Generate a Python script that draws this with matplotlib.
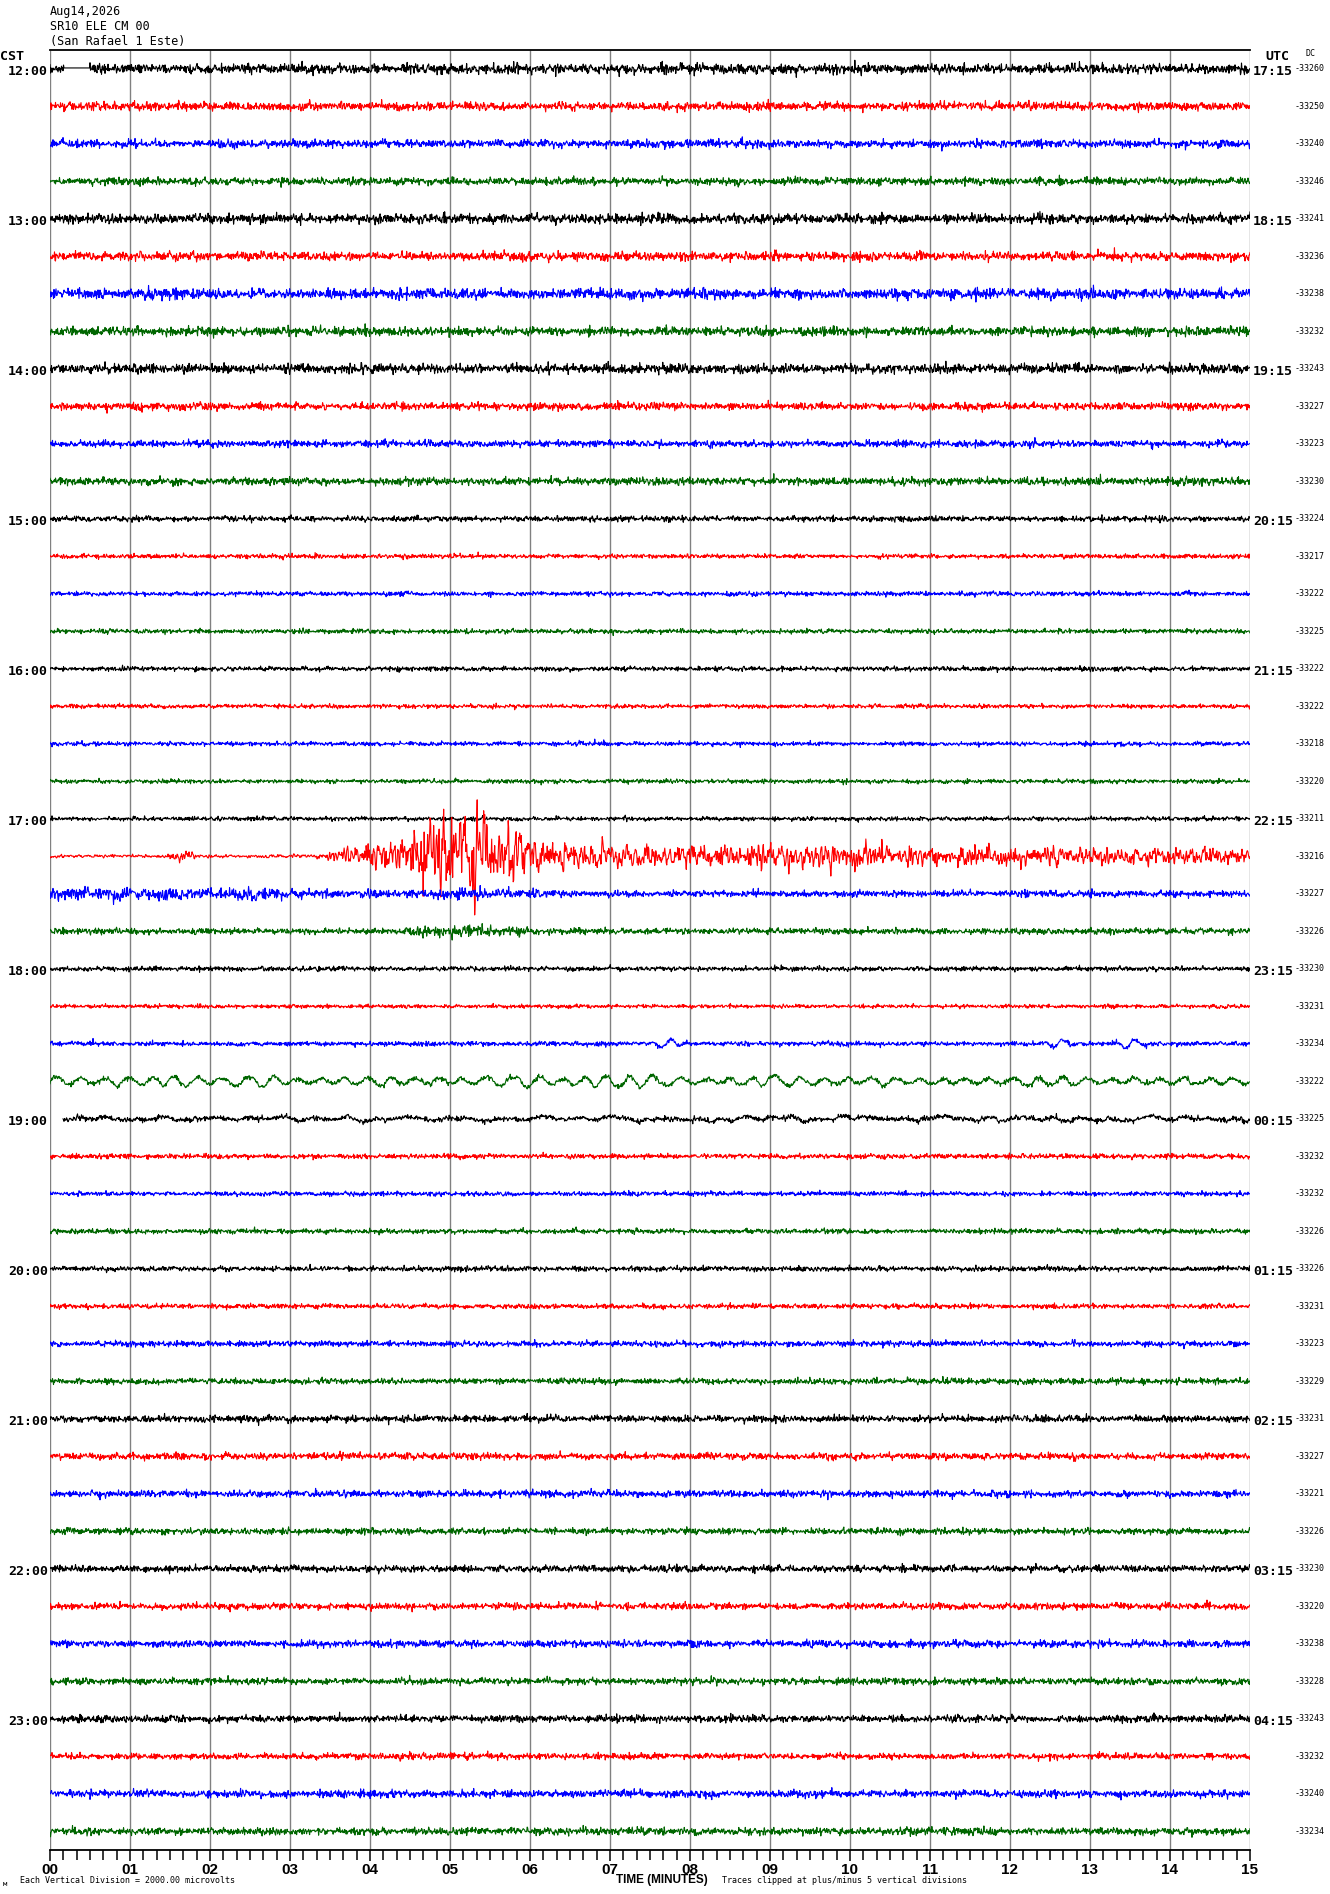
"""Helicorder page for SR10 ELE CM 00, 12:00-23:45 CST."""
import numpy as np
import matplotlib
matplotlib.use("Agg")
import matplotlib.pyplot as plt

W, H = 1330, 1894
MONO = "DejaVu Sans Mono"
BOLD = ["Liberation Sans", "DejaVu Sans"]

TITLE = ["Aug14,2026", "SR10 ELE CM 00", "(San Rafael 1 Este)"]
CST_HOURS = [f"{h}:00" for h in range(12, 24)]
UTC_HOURS = ["17:15", "18:15", "19:15", "20:15", "21:15", "22:15",
             "23:15", "00:15", "01:15", "02:15", "03:15", "04:15"]
DC_VALUES = [-33260, -33250, -33240, -33246, -33241, -33236, -33238, -33232,
             -33243, -33227, -33223, -33230, -33224, -33217, -33222, -33225,
             -33222, -33222, -33218, -33220, -33211, -33216, -33227, -33226,
             -33230, -33231, -33234, -33222, -33225, -33232, -33232, -33226,
             -33226, -33231, -33223, -33229, -33231, -33227, -33221, -33226,
             -33230, -33220, -33238, -33228, -33243, -33232, -33240, -33234]
COLORS = ["#000000", "#ff0000", "#0000ff", "#006600"]

# background noise level of each line (pixels, ~1 sigma)
NOISE_PX = [2.3, 2.1, 1.9, 1.8, 2.3, 2.1, 2.5, 2.2,
            2.2, 1.8, 1.6, 1.8, 1.3, 1.1, 1.1, 1.1,
            1.1, 1.0, 1.0, 1.0, 1.0, 0.8, 1.8, 1.4,
            1.1, 0.9, 1.1, 1.1, 1.2, 1.2, 1.1, 1.2,
            1.2, 1.2, 1.4, 1.4, 1.6, 1.6, 1.6, 1.5,
            1.6, 1.6, 1.7, 1.6, 1.7, 1.5, 1.8, 1.8]

# amplitude envelopes (minute, sigma px) for lines that are not steady
EVENT_MIN = [0, 1.45, 1.55, 1.75, 1.85, 3.3, 3.6, 4.0, 4.4, 4.7, 5.0, 5.3,
             5.6, 5.9, 6.3, 7.0, 8.0, 9.0, 9.6, 10.2, 11.0, 13.0, 15.0]
EVENT_PX = [0.8, 0.8, 2.2, 2.2, 0.8, 0.8, 3.5, 6.5, 10.0, 16.5, 18.5, 17.5,
            16.0, 11.0, 7.5, 5.8, 5.0, 5.2, 6.2, 5.2, 4.6, 4.6, 4.2]
BLUE_1730_MIN = [0, 2.7, 3.0, 4.5, 5.0, 6.0, 6.5, 15]
BLUE_1730_PX = [3.0, 3.0, 2.0, 2.0, 2.6, 2.6, 1.6, 1.6]
GREEN_1745_MIN = [0, 4.3, 4.6, 5.9, 6.2, 15]
GREEN_1745_PX = [1.4, 1.4, 2.6, 2.6, 1.4, 1.4]
GAP_ROW0 = (0.17, 0.5)      # flat stretch on the first line
START_ROW28 = 0.16          # 19:00 line starts late
PACKETS_ROW26 = [7.7, 12.6, 13.5]   # long-period wave packets (minutes)

ROW_PX = 37.5
N = 2400
t = np.linspace(0, 15, N)
rng = np.random.default_rng(1408)


def smooth(x, k):
    return np.convolve(x, np.ones(k) / k, mode="same")


fig = plt.figure(figsize=(W / 100, H / 100), dpi=100)
ax = fig.add_axes([50 / W, 44 / H, 1200 / W, 1800 / H])
ax.set_xlim(0, 15)
ax.set_ylim(47.5, -0.5)

ax.vlines(range(16), -0.5, 47.5, color="#808080", lw=1.0, zorder=0)

for i in range(48):
    sig = np.full(N, NOISE_PX[i])
    if i == 0:
        sig[(t > GAP_ROW0[0]) & (t < GAP_ROW0[1])] = 0
    if i == 21:
        sig = np.interp(t, EVENT_MIN, EVENT_PX)
    if i == 22:
        sig = np.interp(t, BLUE_1730_MIN, BLUE_1730_PX)
    if i == 23:
        sig = np.interp(t, GREEN_1745_MIN, GREEN_1745_PX)
    if i == 21:
        y = smooth(rng.standard_normal(N), 2) * 1.4 * sig
    else:
        y = rng.standard_normal(N) * sig
    if i == 22:
        y += smooth(rng.standard_normal(N), 6) * 3.0 * (t < 3)
    if i == 26:
        for c in PACKETS_ROW26:
            y += 5 * np.sin(2 * np.pi * (t - c) / 0.25) * np.exp(-((t - c) / 0.15) ** 2)
    if i == 27:
        mod = 2.0 + np.abs(smooth(rng.standard_normal(N), 120)) * 22
        y += np.clip(mod, 1.5, 7) * np.sin(2 * np.pi * t / 0.3 + smooth(rng.standard_normal(N), 150) * 8)
    if i == 28:
        y += smooth(rng.standard_normal(N), 25) * 6
        y[t < START_ROW28] = np.nan
    if i == 0:
        y[(t > GAP_ROW0[0]) & (t < GAP_ROW0[1])] = 0.8
    ax.plot(t, i - y / ROW_PX, color=COLORS[i % 4], lw=0.8, zorder=2)

for side in ("left", "right"):
    ax.spines[side].set_visible(False)
for side in ("top", "bottom"):
    ax.spines[side].set_linewidth(1.3)
ax.set_yticks([])
ax.set_xticks(range(16))
ax.set_xticklabels([f"{m:02d}" for m in range(16)], family=BOLD,
                   fontweight="bold", fontsize=11)
ax.set_xticks(np.arange(0, 15, 1 / 6), minor=True)
ax.tick_params(axis="x", which="major", length=8, width=1.1, pad=1)
ax.tick_params(axis="x", which="minor", length=7, width=1.1)

ytr = ax.get_yaxis_transform()
for k in range(12):
    ax.text(-0.0015, 4 * k + 0.06, CST_HOURS[k], transform=ytr, ha="right",
            va="center", family=MONO, fontsize=9.5, fontweight="bold")
    ax.text(1.0025, 4 * k + 0.06, UTC_HOURS[k], transform=ytr, ha="left",
            va="center", family=MONO, fontsize=9.5, fontweight="bold")
for i, v in enumerate(DC_VALUES):
    ax.text(1.037, i, str(v), transform=ytr, ha="left", va="center",
            family=MONO, fontsize=6)


def px(x, y):
    return x / W, 1 - y / H


for k, line in enumerate(TITLE):
    fig.text(*px(50, 12 + 15 * k), line, family=MONO, fontsize=8.5, va="center")
fig.text(*px(0, 57), "CST", family=MONO, fontsize=9.5, va="center", fontweight="bold")
fig.text(*px(1265, 57), "UTC", family=MONO, fontsize=9.5, va="center", fontweight="bold")
fig.text(*px(1306, 54), "DC", family=MONO, fontsize=6, va="center")
fig.text(*px(3, 1884), "м", family=MONO, fontsize=5, va="center")
fig.text(*px(20, 1880), "Each Vertical Division = 2000.00 microvolts",
         family=MONO, fontsize=6, va="center")
fig.text(*px(662, 1880), "TIME (MINUTES)", family=BOLD, fontweight="bold",
         fontsize=8.5, ha="center", va="center")
fig.text(*px(722, 1880), "Traces clipped at plus/minus 5 vertical divisions",
         family=MONO, fontsize=6, va="center")

fig.savefig("out.png", dpi=100)
plt.close(fig)
